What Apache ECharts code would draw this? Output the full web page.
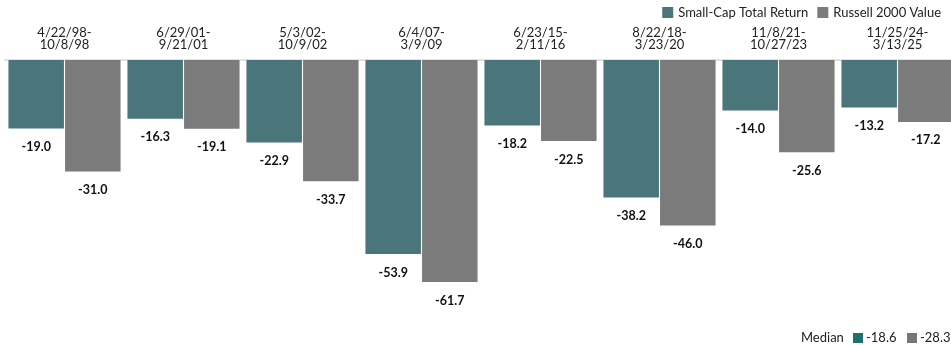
<!DOCTYPE html>
<html>
<head>
<meta charset="utf-8">
<script src="https://cdn.jsdelivr.net/npm/echarts@6/dist/echarts.min.js"></script>
<style>
html,body{margin:0;padding:0;background:#fff;overflow:hidden;}
#wrap{width:951px;height:345px;overflow:hidden;}
#chart{width:958px;height:345px;}
</style>
</head>
<body>
<div id="wrap"><div id="chart"></div></div>
<script>
const categories = ['4/22/98-\n10/8/98','6/29/01-\n9/21/01','5/3/02-\n10/9/02','6/4/07-\n3/9/09','6/23/15-\n2/11/16','8/22/18-\n3/23/20','11/8/21-\n10/27/23','11/25/24-\n3/13/25'];
const smallCap = [-19.0,-16.3,-22.9,-53.9,-18.2,-38.2,-14.0,-13.2];
const russell = [-31.0,-19.1,-33.7,-61.7,-22.5,-46.0,-25.6,-17.2];
const seriesNames = ['Small-Cap Total Return','Russell 2000 Value'];
const medians = [-18.6,-28.3];

const FONT = 'Lato, "Open Sans", sans-serif';
const chart = echarts.init(document.getElementById('chart'));
const labelCfg = {
  show: true, position: 'bottom', distance: 12,
  fontFamily: FONT, fontWeight: 'bold', fontSize: 12.5, color: '#111',
  formatter: p => p.value.toFixed(1)
};
chart.setOption({
  animation: false,
  legend: {
    right: 12, top: 1, itemWidth: 11, itemHeight: 11, itemGap: 9,
    icon: 'rect',
    textStyle: {fontFamily: FONT, fontSize: 13, color: '#222'},
    data: seriesNames
  },
  grid: {left: 5, width: 952, top: 60, height: 270},
  xAxis: {
    type: 'category', position: 'top', data: categories,
    axisLine: {show: true, lineStyle: {color: '#e3e3e3', width: 2}},
    axisTick: {show: false},
    axisLabel: {margin: 9, fontFamily: FONT, fontSize: 13, lineHeight: 12, color: '#222'}
  },
  yAxis: {
    type: 'value', min: -75, max: 0, show: false, splitLine: {show: false}
  },
  series: [
    {name: seriesNames[0], type: 'bar', data: smallCap, barWidth: 55.5, barGap: '2%',
     itemStyle: {color: '#4a757a'}, label: labelCfg},
    {name: seriesNames[1], type: 'bar', data: russell, barWidth: 55.5,
     itemStyle: {color: '#7b7b7b'}, label: labelCfg}
  ],
  graphic: [
    {type: 'text', left: 801, top: 331, style: {text: 'Median', fontFamily: FONT, fontSize: 13, fill: '#222'}},
    {type: 'rect', left: 853, top: 333, shape: {width: 10, height: 10}, style: {fill: '#1e716d'}},
    {type: 'text', left: 866, top: 331, style: {text: medians[0].toFixed(1), fontFamily: FONT, fontSize: 13, fill: '#222'}},
    {type: 'rect', left: 907, top: 333, shape: {width: 10, height: 10}, style: {fill: '#777777'}},
    {type: 'text', left: 920, top: 331, style: {text: medians[1].toFixed(1), fontFamily: FONT, fontSize: 13, fill: '#222'}}
  ]
});
</script>
</body>
</html>
